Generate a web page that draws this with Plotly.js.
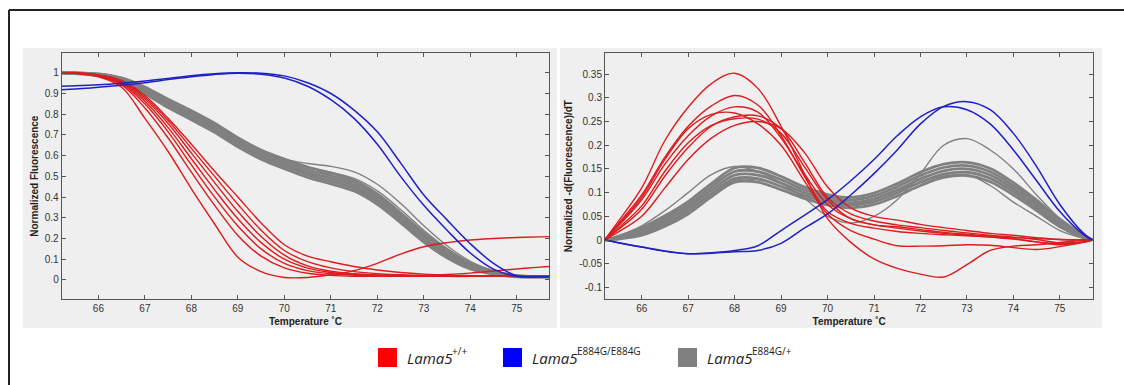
<!DOCTYPE html>
<html>
<head>
<meta charset="utf-8">
<script src="https://cdn.plot.ly/plotly-3.0.1.min.js"></script>
<style>
html,body{margin:0;padding:0;background:#ffffff;}
#chart{width:1124px;height:385px;}
</style>
</head>
<body>
<div id="chart"></div>
<script>
// Temperature grid (°C) shared by all curves
const temperature = [65.2, 65.5, 66, 66.5, 67, 67.5, 68, 68.5, 69, 69.5, 70, 70.5, 71, 71.5, 72, 72.5, 73, 73.5, 74, 74.5, 75, 75.5, 75.7];

// Left panel: normalized fluorescence
const wtMelt = [
  [1.0, 0.997, 0.98, 0.93, 0.78, 0.62, 0.44, 0.27, 0.11, 0.04, 0.012, 0.012, 0.025, 0.045, 0.08, 0.125, 0.16, 0.18, 0.193, 0.2, 0.205, 0.208, 0.209],
  [1.0, 0.998, 0.983, 0.942, 0.83, 0.685, 0.52, 0.36, 0.215, 0.115, 0.058, 0.032, 0.022, 0.018, 0.018, 0.02, 0.022, 0.026, 0.033, 0.043, 0.053, 0.062, 0.065],
  [1.0, 0.998, 0.985, 0.948, 0.85, 0.715, 0.555, 0.4, 0.26, 0.15, 0.08, 0.045, 0.03, 0.023, 0.02, 0.018, 0.018, 0.017, 0.017, 0.017, 0.017, 0.017, 0.017],
  [1.0, 0.998, 0.986, 0.952, 0.862, 0.735, 0.585, 0.435, 0.295, 0.18, 0.1, 0.057, 0.036, 0.026, 0.021, 0.019, 0.018, 0.018, 0.018, 0.018, 0.018, 0.018, 0.018],
  [1.0, 0.999, 0.988, 0.957, 0.873, 0.755, 0.612, 0.47, 0.33, 0.21, 0.12, 0.068, 0.042, 0.03, 0.024, 0.021, 0.02, 0.019, 0.019, 0.019, 0.019, 0.019, 0.019],
  [1.0, 0.999, 0.989, 0.961, 0.882, 0.77, 0.635, 0.5, 0.365, 0.24, 0.142, 0.088, 0.058, 0.04, 0.03, 0.025, 0.022, 0.02, 0.02, 0.02, 0.02, 0.02, 0.02],
  [1.0, 0.999, 0.99, 0.963, 0.89, 0.78, 0.655, 0.525, 0.4, 0.275, 0.17, 0.115, 0.088, 0.065, 0.048, 0.036, 0.028, 0.023, 0.021, 0.02, 0.02, 0.02, 0.02]
];
const homMelt = [
  [0.935, 0.937, 0.942, 0.95, 0.96, 0.973, 0.986, 0.995, 1.0, 0.998, 0.985, 0.952, 0.9, 0.82, 0.715, 0.565, 0.41, 0.29, 0.175, 0.08, 0.02, 0.016, 0.016],
  [0.918, 0.922, 0.93, 0.94, 0.952, 0.967, 0.981, 0.992, 0.998, 0.993, 0.975, 0.935, 0.87, 0.78, 0.655, 0.5, 0.36, 0.24, 0.13, 0.052, 0.017, 0.015, 0.015]
];
// heterozygous band (dense bundle) and its stray curves
const hetMelt = [
  [1.0, 1.0, 0.995, 0.975, 0.931, 0.872, 0.817, 0.757, 0.687, 0.627, 0.583, 0.545, 0.516, 0.481, 0.415, 0.324, 0.227, 0.143, 0.077, 0.042, 0.021, 0.016, 0.016],
  [1.0, 0.999, 0.993, 0.97, 0.923, 0.862, 0.806, 0.746, 0.676, 0.616, 0.572, 0.533, 0.503, 0.468, 0.403, 0.312, 0.216, 0.134, 0.071, 0.039, 0.02, 0.016, 0.016],
  [1.0, 0.998, 0.99, 0.965, 0.915, 0.852, 0.795, 0.735, 0.665, 0.605, 0.56, 0.52, 0.49, 0.455, 0.39, 0.3, 0.205, 0.125, 0.065, 0.035, 0.018, 0.015, 0.015],
  [1.0, 0.997, 0.988, 0.96, 0.907, 0.842, 0.784, 0.724, 0.654, 0.594, 0.549, 0.508, 0.477, 0.442, 0.378, 0.288, 0.194, 0.116, 0.059, 0.032, 0.017, 0.015, 0.015],
  [1.0, 0.996, 0.985, 0.955, 0.899, 0.832, 0.773, 0.713, 0.643, 0.583, 0.537, 0.495, 0.464, 0.429, 0.365, 0.276, 0.183, 0.107, 0.053, 0.028, 0.015, 0.014, 0.014]
];
const hetMeltStray = [
  [1.0, 1.0, 0.995, 0.975, 0.931, 0.872, 0.817, 0.757, 0.687, 0.627, 0.583, 0.562, 0.548, 0.522, 0.462, 0.37, 0.262, 0.165, 0.09, 0.045, 0.02, 0.015, 0.015],
  [1.0, 1.0, 0.995, 0.975, 0.931, 0.872, 0.817, 0.757, 0.687, 0.627, 0.583, 0.545, 0.52, 0.49, 0.43, 0.34, 0.24, 0.152, 0.085, 0.045, 0.02, 0.015, 0.015]
];

// Right panel: normalized -d(Fluorescence)/dT
const wtDeriv = [
  [0, 0.04, 0.11, 0.21, 0.28, 0.33, 0.352, 0.32, 0.24, 0.14, 0.045, -0.005, -0.04, -0.06, -0.072, -0.078, -0.052, -0.022, -0.013, -0.01, -0.005, -0.001, 0],
  [0, 0.035, 0.095, 0.175, 0.24, 0.283, 0.305, 0.285, 0.22, 0.135, 0.06, 0.035, 0.025, 0.018, 0.014, 0.011, 0.009, 0.007, 0.005, 0.003, 0.001, 0, 0],
  [0, 0.03, 0.085, 0.16, 0.22, 0.262, 0.281, 0.27, 0.215, 0.14, 0.075, 0.045, 0.032, 0.025, 0.019, 0.014, 0.01, 0.006, 0.002, -0.004, -0.008, -0.004, 0],
  [0, 0.032, 0.09, 0.17, 0.235, 0.265, 0.268, 0.245, 0.2, 0.125, 0.055, 0.02, 0.002, -0.012, -0.013, -0.012, -0.01, -0.011, -0.016, -0.02, -0.014, -0.005, 0],
  [0, 0.022, 0.065, 0.135, 0.195, 0.24, 0.26, 0.262, 0.235, 0.165, 0.09, 0.055, 0.04, 0.032, 0.026, 0.02, 0.015, 0.01, 0.006, 0.001, -0.006, -0.004, 0],
  [0, 0.017, 0.05, 0.11, 0.17, 0.215, 0.242, 0.25, 0.235, 0.185, 0.112, 0.068, 0.05, 0.042, 0.033, 0.026, 0.02, 0.014, 0.01, 0.005, 0.001, 0, 0],
  [0, 0.025, 0.072, 0.145, 0.205, 0.242, 0.256, 0.255, 0.225, 0.155, 0.085, 0.045, 0.032, 0.028, 0.022, 0.016, 0.012, 0.008, 0.003, -0.004, -0.01, -0.005, 0]
];
const homDeriv = [
  [0, -0.006, -0.015, -0.023, -0.029, -0.027, -0.022, -0.012, 0.02, 0.052, 0.085, 0.125, 0.17, 0.22, 0.26, 0.281, 0.275, 0.245, 0.19, 0.125, 0.06, 0.012, 0],
  [0, -0.006, -0.015, -0.024, -0.029, -0.028, -0.025, -0.022, -0.007, 0.025, 0.055, 0.095, 0.14, 0.19, 0.245, 0.282, 0.292, 0.275, 0.225, 0.155, 0.075, 0.015, 0]
];
const hetDeriv = [
  [0, 0.008, 0.026, 0.051, 0.081, 0.119, 0.152, 0.152, 0.134, 0.112, 0.096, 0.09, 0.099, 0.119, 0.143, 0.16, 0.164, 0.151, 0.121, 0.084, 0.044, 0.011, 0],
  [0, 0.0065, 0.022, 0.0455, 0.0745, 0.112, 0.1445, 0.1445, 0.127, 0.106, 0.0905, 0.0845, 0.093, 0.1125, 0.136, 0.153, 0.157, 0.144, 0.1145, 0.0785, 0.04, 0.0095, 0],
  [0, 0.005, 0.018, 0.04, 0.068, 0.105, 0.137, 0.137, 0.12, 0.1, 0.085, 0.079, 0.087, 0.106, 0.129, 0.146, 0.15, 0.137, 0.108, 0.073, 0.036, 0.008, 0],
  [0, 0.0035, 0.014, 0.0345, 0.0615, 0.098, 0.1295, 0.1295, 0.113, 0.094, 0.0795, 0.0735, 0.081, 0.0995, 0.122, 0.139, 0.143, 0.13, 0.1015, 0.0675, 0.032, 0.0065, 0],
  [0, 0.002, 0.01, 0.029, 0.055, 0.091, 0.122, 0.122, 0.106, 0.088, 0.074, 0.068, 0.075, 0.093, 0.115, 0.132, 0.136, 0.123, 0.095, 0.062, 0.028, 0.005, 0]
];
const hetDerivStray = [
  [0, 0.004, 0.014, 0.033, 0.06, 0.096, 0.126, 0.127, 0.113, 0.094, 0.079, 0.076, 0.085, 0.104, 0.122, 0.135, 0.138, 0.115, 0.08, 0.05, 0.02, 0.004, 0],
  [0, 0.009, 0.03, 0.062, 0.1, 0.138, 0.155, 0.145, 0.12, 0.088, 0.05, 0.036, 0.05, 0.085, 0.14, 0.2, 0.214, 0.19, 0.15, 0.095, 0.045, 0.008, 0]
];

// Axis ticks
const tempTicks = [66, 67, 68, 69, 70, 71, 72, 73, 74, 75];
const tempTickLabels = ['66', '67', '68', '69', '70', '71', '72', '73', '74', '75'];
const fluorTicks = [0, 0.1, 0.2, 0.3, 0.4, 0.5, 0.6, 0.7, 0.8, 0.9, 1];
const fluorTickLabels = ['0', '0.1', '0.2', '0.3', '0.4', '0.5', '0.6', '0.7', '0.8', '0.9', '1'];
const derivTicks = [-0.1, -0.05, 0, 0.05, 0.1, 0.15, 0.2, 0.25, 0.3, 0.35];
const derivTickLabels = ['-0.1', '-0.05', '0', '0.05', '0.1', '0.15', '0.2', '0.25', '0.3', '0.35'];

// Legend
const groupGene = ['Lama5', 'Lama5', 'Lama5'];
const groupGenotype = ['+/+', 'E884G/E884G', 'E884G/+'];
const groupSwatchColors = ['#ff0000', '#0000ff', '#808080'];
const lineColors = {wt: 'rgb(220,28,30)', hom: 'rgb(32,32,200)', het: 'rgb(128,128,128)'};

const W = 1124, H = 385;
const px = x => x / W;
const py = y => 1 - y / H;

const traces = [];
function addGroup(arr, color, width, xa, ya) {
  arr.forEach(vals => {
    traces.push({
      x: temperature, y: vals, xaxis: xa, yaxis: ya,
      type: 'scatter', mode: 'lines',
      line: {color: color, width: width, shape: 'spline', smoothing: 1},
      showlegend: false, hoverinfo: 'skip'
    });
  });
}
addGroup(hetMelt, lineColors.het, 2.8, 'x', 'y');
addGroup(hetMeltStray, lineColors.het, 1.4, 'x', 'y');
addGroup(wtMelt, lineColors.wt, 1.4, 'x', 'y');
addGroup(homMelt, lineColors.hom, 1.5, 'x', 'y');
addGroup(hetDeriv, lineColors.het, 2.8, 'x2', 'y2');
addGroup(hetDerivStray, lineColors.het, 1.4, 'x2', 'y2');
addGroup(wtDeriv, lineColors.wt, 1.4, 'x2', 'y2');
addGroup(homDeriv, lineColors.hom, 1.5, 'x2', 'y2');

const tickFont = {family: 'Liberation Sans, Arial, sans-serif', size: 10, color: '#333'};
const titleFont = {family: 'Liberation Sans, Arial, sans-serif', size: 10, color: '#222'};
const axisCommon = {
  showline: true, linecolor: '#555', linewidth: 1, mirror: 'ticks',
  ticks: 'inside', ticklen: 4, tickcolor: '#555', tickwidth: 1,
  showgrid: false, zeroline: false, tickfont: tickFont, fixedrange: true
};

const shapes = [
  // grey panel backgrounds
  {type: 'rect', xref: 'paper', yref: 'paper', x0: px(23), x1: px(557), y0: py(328), y1: py(48), fillcolor: '#efefef', line: {width: 0}, layer: 'below'},
  {type: 'rect', xref: 'paper', yref: 'paper', x0: px(560), x1: px(1102), y0: py(328), y1: py(48), fillcolor: '#efefef', line: {width: 0}, layer: 'below'},
  // outer frame (left and top)
  {type: 'line', xref: 'paper', yref: 'paper', x0: px(9), x1: px(9), y0: 0, y1: py(10), line: {color: '#222', width: 2}},
  {type: 'line', xref: 'paper', yref: 'paper', x0: px(9), x1: 1, y0: py(10), y1: py(10), line: {color: '#222', width: 2}}
];
const annotations = [];
const swatchX = [378, 503, 678];
groupGene.forEach((gene, i) => {
  shapes.push({type: 'rect', xref: 'paper', yref: 'paper', x0: px(swatchX[i]), x1: px(swatchX[i] + 19), y0: py(367), y1: py(348), fillcolor: groupSwatchColors[i], line: {width: 0}});
  annotations.push({xref: 'paper', yref: 'paper', x: px(swatchX[i] + 27), y: py(358), xanchor: 'left', yanchor: 'middle', showarrow: false, text: gene,
    font: {family: 'Open Sans, Liberation Sans, sans-serif', size: 15, style: 'italic', color: '#222'}});
  annotations.push({xref: 'paper', yref: 'paper', x: px(swatchX[i] + 72), y: py(351), xanchor: 'left', yanchor: 'middle', showarrow: false, text: groupGenotype[i],
    font: {family: 'Open Sans, Liberation Sans, sans-serif', size: 10, color: '#222'}});
});

const layout = {
  width: W, height: H,
  margin: {l: 0, r: 0, t: 0, b: 0},
  paper_bgcolor: '#ffffff', plot_bgcolor: '#ffffff',
  showlegend: false,
  xaxis: Object.assign({}, axisCommon, {domain: [px(61.7), px(549.3)], range: [65.21, 75.70], anchor: 'y', tickvals: tempTicks, ticktext: tempTickLabels, title: {text: '<b>Temperature ˚C</b>', font: titleFont, standoff: 4}}),
  yaxis: Object.assign({}, axisCommon, {domain: [py(299), py(53.3)], range: [-0.092, 1.094], anchor: 'x', tickvals: fluorTicks, ticktext: fluorTickLabels, title: {text: '<b>Normalized Fluorescence</b>', font: titleFont, standoff: 4}}),
  xaxis2: Object.assign({}, axisCommon, {domain: [px(605), px(1093.3)], range: [65.21, 75.72], anchor: 'y2', tickvals: tempTicks, ticktext: tempTickLabels, title: {text: '<b>Temperature ˚C</b>', font: titleFont, standoff: 4}}),
  yaxis2: Object.assign({}, axisCommon, {domain: [py(299), py(53.3)], range: [-0.1245, 0.394], anchor: 'x2', tickvals: derivTicks, ticktext: derivTickLabels, title: {text: '<b>Normalized -d(Fluorescence)/dT</b>', font: titleFont, standoff: 4}}),
  shapes: shapes,
  annotations: annotations
};

Plotly.newPlot('chart', traces, layout, {staticPlot: true, displayModeBar: false});
</script>
</body>
</html>
